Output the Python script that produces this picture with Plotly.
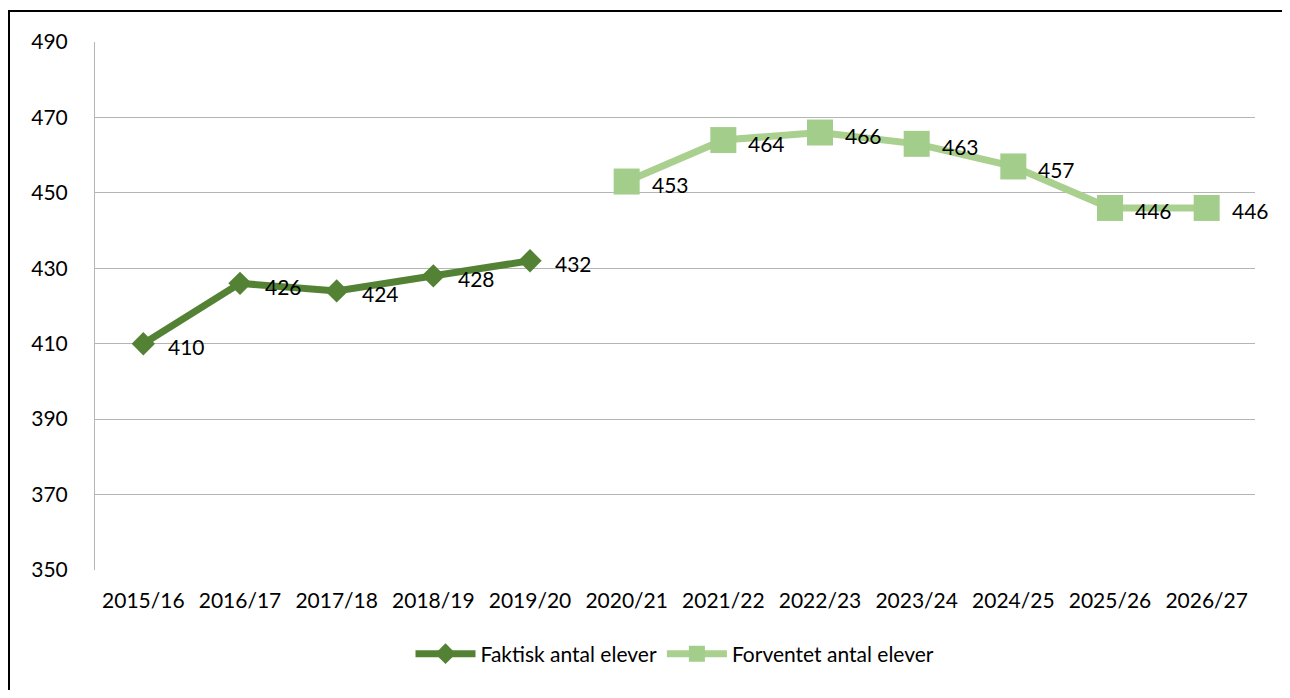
import plotly.graph_objects as go

categories = ["2015/16", "2016/17", "2017/18", "2018/19", "2019/20", "2020/21",
              "2021/22", "2022/23", "2023/24", "2024/25", "2025/26", "2026/27"]
actual_years = categories[:5]
actual_values = [410, 426, 424, 428, 432]
forecast_years = categories[5:]
forecast_values = [453, 464, 466, 463, 457, 446, 446]
y_ticks = [350, 370, 390, 410, 430, 450, 470, 490]

FONT = "Lato, 'Open Sans', sans-serif"
DARK = "#548235"
LIGHT = "#A9D08E"
LIGHT_M = "#A3CD8A"

fig = go.Figure()
fig.add_trace(go.Scatter(
    x=actual_years, y=actual_values, mode="lines+markers",
    name="Faktisk antal elever",
    line=dict(color=DARK, width=7),
    marker=dict(symbol="diamond", size=18, color=DARK),
    cliponaxis=False,
))
fig.add_trace(go.Scatter(
    x=forecast_years, y=forecast_values, mode="lines+markers",
    name="Forventet antal elever",
    line=dict(color=LIGHT, width=7),
    marker=dict(symbol="square", size=26, color=LIGHT_M),
    cliponaxis=False,
))

annotations = []
for xs, ys in ((actual_years, actual_values), (forecast_years, forecast_values)):
    for xv, yv in zip(xs, ys):
        annotations.append(dict(
            x=xv, y=yv, xref="x", yref="y", text=str(yv), showarrow=False,
            xanchor="left", yanchor="middle", xshift=23, yshift=-3,
            font=dict(family=FONT, size=21, color="#000000"),
        ))

# page has an 8px body margin
OFF = 8
W, H = 1290 - 2 * OFF, 698 - 2 * OFF
L, T = 95 - OFF, 42 - OFF
R = W - (1255 - OFF)
B = H - (570 - OFF)
pw, ph = W - L - R, H - T - B

def px_x(p):
    return (p - OFF - L) / pw

def px_y(p):
    return (H - B - (p - OFF)) / ph

shapes = [
    dict(type="line", xref="paper", yref="paper",
         x0=px_x(9), x1=px_x(9), y0=px_y(11), y1=px_y(700),
         line=dict(color="#000000", width=2)),
    dict(type="line", xref="paper", yref="paper",
         x0=px_x(4), x1=px_x(1284), y0=px_y(11), y1=px_y(11),
         line=dict(color="#000000", width=2)),
]

fig.update_layout(
    width=W, height=H,
    margin=dict(l=L, r=R, t=T, b=B, pad=0),
    paper_bgcolor="white", plot_bgcolor="white",
    font=dict(family=FONT, size=21, color="#000000"),
    showlegend=True,
    legend=dict(orientation="h", x=0.5, xanchor="center", y=px_y(654), yanchor="middle",
                font=dict(family=FONT, size=21), itemwidth=60, tracegroupgap=0,
                bgcolor="rgba(0,0,0,0)"),
    annotations=annotations,
    shapes=shapes,
    xaxis=dict(type="category", categoryorder="array", categoryarray=categories,
               range=[-0.5, len(categories) - 0.5], showgrid=False,
               showline=False, ticks="", tickfont=dict(size=21), ticklabelstandoff=16),
    yaxis=dict(range=[350, 490], tickvals=y_ticks, showgrid=True, gridcolor="#B5B5B5",
               gridwidth=1, showline=True, linecolor="#B5B5B5", linewidth=1,
               ticks="", tickfont=dict(size=21), zeroline=False, ticklabelstandoff=22),
)

fig.write_html("out.html")
